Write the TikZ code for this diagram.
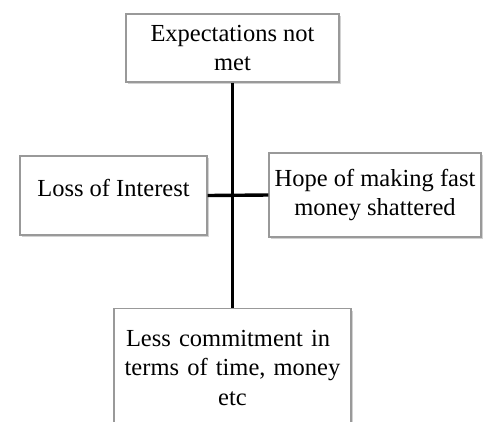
\documentclass[tikz,border=0pt]{standalone}
\usepackage{fontspec}
\setmainfont{Liberation Serif}
\usetikzlibrary{shadows}
\begin{document}
\begin{tikzpicture}[x=1pt, y=-1pt]
 \tikzstyle{cadre}=[rectangle, draw=gray!80, line width=1.2pt, fill=white, align=center, inner sep=0pt, font=\fontsize{24.5}{29.5}\selectfont, drop shadow={shadow xshift=1.5pt, shadow yshift=-2pt, opacity=0.35, fill=gray}]
 \tikzstyle{trait}=[line width=3.4pt, black]
 %
 \useasboundingbox (0,0) rectangle (494,421);
 \clip (0,0) rectangle (494,421);
 \fill[white] (0,0) rectangle (494,421);
 %
 \node[cadre, minimum width=213pt, minimum height=68pt] (attentes) at (232.5, 48) {Expectations not\\met};
 \node[cadre, minimum width=187pt, minimum height=79pt, text depth=15pt] (interet) at (113.5, 195.5) {Loss of Interest};
 \node[cadre, minimum width=212pt, minimum height=84pt] (espoir) at (375, 195) {Hope of making fast\\money shattered};
 \node[cadre, anchor=north, minimum width=237pt, minimum height=118pt, text width=232pt] (engagement) at (232.5, 308) {\makebox[213pt][s]{Less commitment in}\\terms of time, money\\etc};
 %%
 \draw[trait] (attentes.south)--(engagement.north);
 \draw[trait] (interet.east)--(espoir.west);
\end{tikzpicture}
\end{document}
